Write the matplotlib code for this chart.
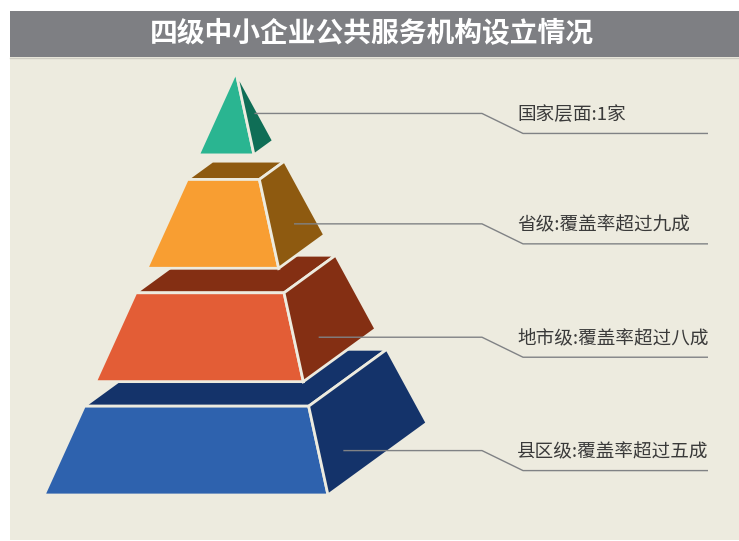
import matplotlib.pyplot as plt
import numpy as np
from matplotlib.patches import Polygon, Rectangle

plt.rcParams['font.family'] = ['Noto Sans CJK SC', 'DejaVu Sans']

# levels, top to bottom
levels = ['国家层面', '省级', '地市级', '县区级']
coverage = ['1家', '覆盖率超过九成', '覆盖率超过八成', '覆盖率超过五成']
title = '四级中小企业公共服务机构设立情况'

front_colors = ['#2AB591', '#F89E32', '#E35D36', '#2E62AE']
side_colors = ['#0F6E56', '#8E5A10', '#842F13', '#14336A']

bg = '#EDEBDF'
band = '#7E7F83'
line_col = '#808285'
text_col = '#3A3A3A'

fig = plt.figure(figsize=(7.39, 5.41), dpi=100)
ax = fig.add_axes([0, 0, 1, 1])
ax.set_xlim(0, 739)
ax.set_ylim(541, 0)
ax.axis('off')

# panel + title band
ax.add_patch(Rectangle((10, 57), 729, 483, color=bg, lw=0))
ax.add_patch(Rectangle((10, 11), 729, 46, color=band, lw=0))
ax.plot([10, 739], [57.5, 57.5], color='#CFCDC3', lw=1)
ax.text(372, 34, title, color='white', fontsize=20, fontweight='bold',
        ha='center', va='center')

# pyramid geometry (pixel space)
apex = np.array([236.0, 72.0])
base_fl = np.array([44.0, 495.0])
base_fr = np.array([328.0, 495.0])
base_br = np.array([427.0, 423.0])
base_bl = base_fl + base_br - base_fr


def at(p, t):
    return p + t * (apex - p)


step = 0.268
height = 0.21
n = len(levels)

for k in range(n):
    i = n - 1 - k          # index in levels list (top to bottom)
    t0 = k * step
    t1 = 1.0 if i == 0 else t0 + height
    if t1 < 1.0:
        top = [at(base_fl, t1), at(base_fr, t1), at(base_br, t1), at(base_bl, t1)]
        ax.add_patch(Polygon(top, closed=True, fc=side_colors[i], ec=bg, lw=2))
    front = [at(base_fl, t0), at(base_fr, t0), at(base_fr, t1), at(base_fl, t1)]
    side = [at(base_fr, t0), at(base_br, t0), at(base_br, t1), at(base_fr, t1)]
    ax.add_patch(Polygon(front, closed=True, fc=front_colors[i], ec=bg, lw=2))
    ax.add_patch(Polygon(side, closed=True, fc=side_colors[i], ec=bg, lw=2))

    # leader line, starting inside the side face
    y_mid = (at(base_fr, t0)[1] + at(base_fr, t1)[1]) / 2
    s = (base_fr[1] - y_mid) / (base_fr[1] - apex[1])
    x_edge = at(base_fr, s)[0]
    right_pts = []
    for a in range(4):
        p, q = side[a], side[(a + 1) % 4]
        if (p[1] - y_mid) * (q[1] - y_mid) <= 0 and p[1] != q[1]:
            right_pts.append(p[0] + (y_mid - p[1]) / (q[1] - p[1]) * (q[0] - p[0]))
    width = max(right_pts) - x_edge
    x0 = x_edge + min(25, 0.7 * width)
    y_low = y_mid + 20
    ax.plot([x0, 482, 523, 708], [y_mid, y_mid, y_low, y_low],
            color=line_col, lw=1, solid_capstyle='butt')
    ax.text(517, y_low - 18, f'{levels[i]}:{coverage[i]}', color=text_col,
            fontsize=13.4, ha='left', va='center')

fig.savefig('out.png', dpi=100)
